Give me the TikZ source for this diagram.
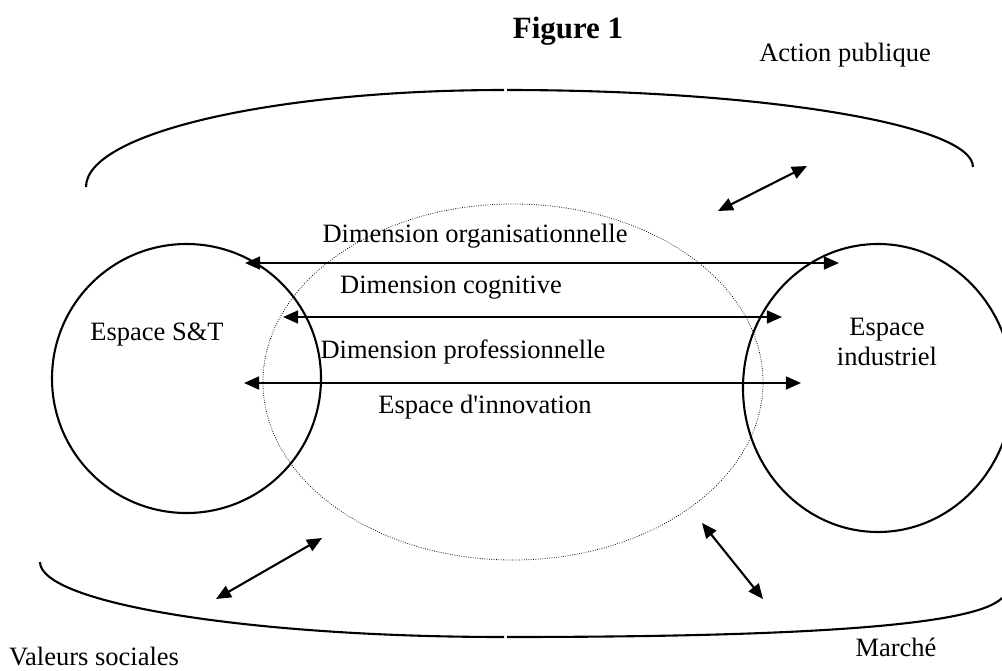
\documentclass[tikz,border=0pt]{standalone}
\usepackage{fontspec}
\setmainfont{Liberation Serif}
\usepackage{tikz}
\usetikzlibrary{arrows.meta, positioning}

\begin{document}
\begin{tikzpicture}[x=0.4528pt, y=-0.4528pt, font=\fontsize{12}{13.6}\selectfont,
  >={Triangle[length=6.8pt, width=5.8pt]}, thick line/.style={line width=0.95pt}]
\useasboundingbox (0,0) rectangle (1002,671);

\node[font=\fontsize{14}{16}\selectfont\bfseries] (title) at (568,31) {Figure 1};
\node (action) at (845,55) {Action publique};
\node (marche) at (896,647) {March\'e};
\node (valeurs) at (94,656) {Valeurs sociales};

\begin{scope}[thick line]
    \draw (186.5,378.5) circle [radius=134.5];
    \draw (878,388) ellipse [x radius=135, y radius=144];
\end{scope}
\draw[dash pattern=on 0.35pt off 0.7pt, line width=0.35pt] (513,382) ellipse [x radius=250, y radius=178];

\node (st) at (157,335) {Espace S\&T};
\node[align=center] (ind) at (887,342) {Espace\\industriel};
\node (org) at (475,236) {Dimension organisationnelle};
\node (cog) at (451,288) {Dimension cognitive};
\node (prof) at (463,352) {Dimension professionnelle};
\node (innov) at (485,407) {Espace d\textquotesingle innovation};

\coordinate (org-l) at (245,263);  \coordinate (org-r) at (839,263);
\coordinate (cog-l) at (283,317);  \coordinate (cog-r) at (782,317);
\coordinate (prof-l) at (244,383); \coordinate (prof-r) at (801,383);

\coordinate (top-l) at (86,187);  \coordinate (top-m) at (504,90);
\coordinate (top-m2) at (507,90); \coordinate (top-r) at (973,167);
\coordinate (bot-l) at (40,562);  \coordinate (bot-m) at (504,637);
\coordinate (bot-m2) at (507,637); \coordinate (bot-r) at (1002,598);

\coordinate (act-a) at (718,211); \coordinate (act-b) at (807,166);
\coordinate (val-a) at (216,599); \coordinate (val-b) at (322,538);
\coordinate (mar-a) at (702,523); \coordinate (mar-b) at (763,599);

\begin{scope}[thick line]
    \draw (top-l) .. controls (86,133) and (274,90) .. (top-m);
    \draw (top-m2) .. controls (765,90) and (973,125) .. (top-r);
    \draw (bot-l) .. controls (40,603) and (248,637) .. (bot-m);
    \draw (bot-m2) .. controls (800,637) and (975,626) .. (bot-r);

    \draw[<->] (org-l) -- (org-r);
    \draw[<->] (cog-l) -- (cog-r);
    \draw[<->] (prof-l) -- (prof-r);

    \draw[<->] (act-a) -- (act-b);
    \draw[<->] (val-a) -- (val-b);
    \draw[<->] (mar-a) -- (mar-b);
\end{scope}
\end{tikzpicture}
\end{document}
